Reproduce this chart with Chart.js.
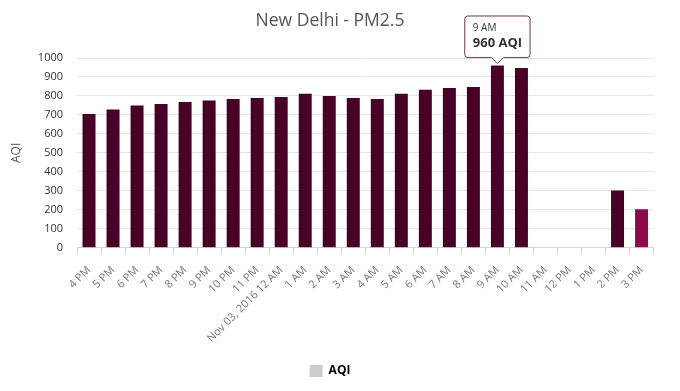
<!DOCTYPE html>
<html>
<head>
<meta charset="utf-8">
<script src="https://cdn.jsdelivr.net/npm/chart.js@4/dist/chart.umd.min.js"></script>
<style>
  html, body { margin: 0; padding: 0; background: #fff; }
  #wrap { width: 660px; height: 391px; }
</style>
</head>
<body>
<div id="wrap"><canvas id="chart"></canvas></div>
<script>
const hours = ["4 PM", "5 PM", "6 PM", "7 PM", "8 PM", "9 PM", "10 PM", "11 PM",
  "Nov 03, 2016 12 AM", "1 AM", "2 AM", "3 AM", "4 AM", "5 AM", "6 AM", "7 AM",
  "8 AM", "9 AM", "10 AM", "11 AM", "12 PM", "1 PM", "2 PM", "3 PM"];
const aqi = [705, 728, 749, 758, 768, 776, 784, 789, 795, 811, 800, 789, 784, 811,
  832, 842, 847, 960, 947, null, null, null, 302, 202];
const barColors = hours.map((h, i) => (i === hours.length - 1 ? "#8c0a4c" : "#4a0026"));
const yTicks = [0, 100, 200, 300, 400, 500, 600, 700, 800, 900, 1000];

Chart.defaults.font.family = "'Open Sans', sans-serif";
Chart.defaults.animation = false;

const chart = new Chart(document.getElementById("chart"), {
  type: "bar",
  data: {
    labels: hours,
    datasets: [{
      label: "AQI",
      data: aqi,
      backgroundColor: barColors,
      hoverBackgroundColor: barColors,
      categoryPercentage: 1,
      barPercentage: 0.54
    }]
  },
  options: {
    responsive: true,
    maintainAspectRatio: false,
    events: [],
    layout: { padding: { left: 5, right: 5, bottom: 4 } },
    plugins: {
      title: {
        display: true,
        text: "New Delhi - PM2.5",
        color: "#555",
        font: { size: 17.5, weight: "normal" },
        padding: { top: 11, bottom: 26 }
      },
      legend: {
        position: "bottom",
        labels: {
          boxWidth: 13,
          boxHeight: 12,
          color: "#333",
          font: { size: 12, weight: "bold" },
          padding: 14,
          generateLabels: () => [{ text: "AQI", fillStyle: "#cccccc", strokeStyle: "#cccccc", lineWidth: 0 }]
        }
      },
      tooltip: {
        enabled: true,
        backgroundColor: "rgba(255,255,255,0.95)",
        borderColor: "#6a3a50",
        borderWidth: 1,
        cornerRadius: 3,
        caretSize: 6,
        yAlign: "bottom",
        xAlign: "center",
        displayColors: false,
        titleColor: "#333",
        titleFont: { size: 10, weight: "normal" },
        titleMarginBottom: 2,
        bodyColor: "#333",
        bodyFont: { size: 13, weight: "bold" },
        padding: { top: 6, bottom: 6, left: 8, right: 8 },
        callbacks: {
          label: ctx => ctx.parsed.y + " AQI"
        }
      }
    },
    scales: {
      x: {
        // the rotated first label would otherwise push the plot to the right
        afterFit: axis => { axis.height -= 3; axis.paddingLeft = 0; },
        grid: {
          display: true,
          drawOnChartArea: false,
          drawTicks: true,
          tickLength: 7,
          color: "#ccd6eb"
        },
        border: { display: true, color: "#ccd6eb" },
        ticks: {
          color: "#777",
          font: { size: 11 },
          minRotation: 45,
          maxRotation: 45,
          autoSkip: false,
          padding: 9
        }
      },
      y: {
        min: 0,
        max: 1000,
        afterBuildTicks: axis => { axis.ticks = yTicks.map(v => ({ value: v })); },
        afterFit: axis => { axis.width = 72; },
        grid: { color: "#e6e6e6", drawTicks: false },
        border: { display: false },
        ticks: { color: "#333", font: { size: 11 }, padding: 14, callback: v => String(v) },
        title: {
          display: true,
          text: "AQI",
          color: "#555",
          font: { size: 12 },
          padding: { top: 4, bottom: 12 }
        }
      }
    }
  }
});

// show the tooltip on the 9 AM bar, as in the screenshot
const peak = aqi.indexOf(960);
const el = chart.getDatasetMeta(0).data[peak];
chart.tooltip.setActiveElements([{ datasetIndex: 0, index: peak }], { x: el.x, y: el.y });
chart.update();
</script>
</body>
</html>
